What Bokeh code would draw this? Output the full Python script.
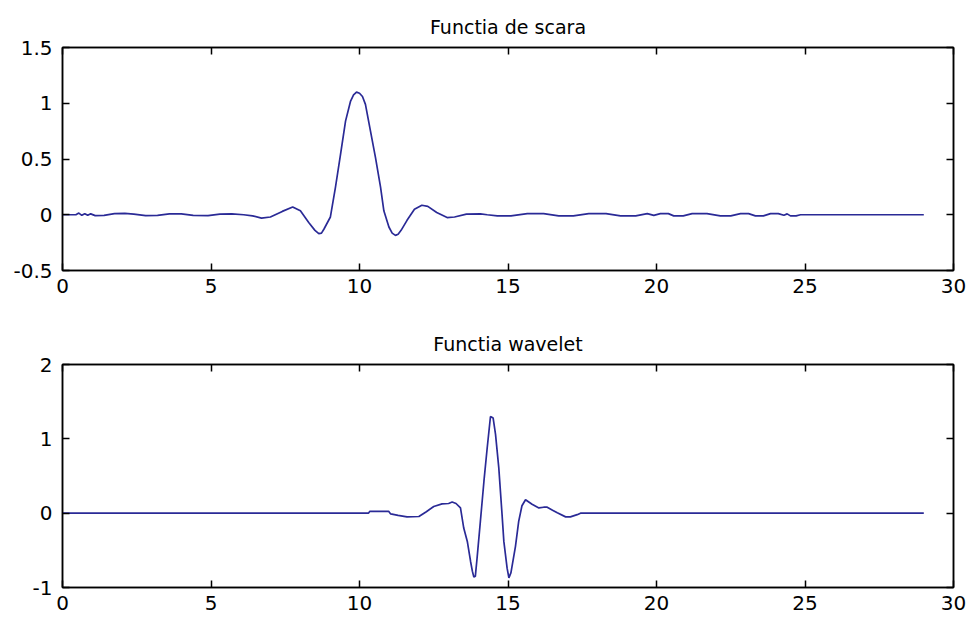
from bokeh.plotting import figure
from bokeh.layouts import column
from bokeh.models import FixedTicker, CustomJSTickFormatter, LinearAxis, Range1d
from bokeh.embed import file_html
from bokeh.resources import INLINE

# ---- data ----
x_ticks = [0, 5, 10, 15, 20, 25, 30]

phi_title = "Functia de scara"
phi_x = [0.0, 0.45, 0.55, 0.65, 0.75, 0.85, 0.95, 1.1, 1.4, 1.75, 2.1, 2.4, 2.8, 3.2, 3.6,
         4.0, 4.4, 4.9, 5.3, 5.7, 6.1, 6.4, 6.7, 7.0, 7.4, 7.75, 8.01, 8.29, 8.5, 8.63, 8.72,
         8.8, 9.02, 9.19, 9.36, 9.53, 9.7, 9.8, 9.9, 10.0, 10.1, 10.2, 10.37, 10.54, 10.71,
         10.82, 10.99, 11.1, 11.21, 11.3, 11.4, 11.6, 11.85, 12.1, 12.3, 12.6, 12.95, 13.2,
         13.6, 14.07, 14.3, 14.64, 15.1, 15.65, 16.2, 16.71, 17.2, 17.72, 18.3, 18.79, 19.3,
         19.69, 19.91, 20.13, 20.4, 20.58, 20.9, 21.2, 21.7, 22.15, 22.5, 22.83, 23.1, 23.33,
         23.6, 23.84, 24.1, 24.29, 24.4, 24.51, 24.7, 24.85, 29.0]
phi_y = [0.0, 0.0, 0.015, -0.005, 0.01, -0.005, 0.008, -0.008, -0.005, 0.01, 0.012, 0.005,
         -0.008, -0.005, 0.008, 0.008, -0.005, -0.008, 0.005, 0.008, 0.0, -0.01, -0.03, -0.02,
         0.03, 0.07, 0.035, -0.07, -0.14, -0.17, -0.165, -0.13, -0.02, 0.245, 0.54, 0.84,
         1.02, 1.075, 1.10, 1.09, 1.06, 0.99, 0.75, 0.51, 0.245, 0.035, -0.11, -0.165,
         -0.185, -0.175, -0.14, -0.05, 0.05, 0.085, 0.075, 0.02, -0.025, -0.02, 0.005, 0.008,
         0.0, -0.01, -0.01, 0.01, 0.01, -0.01, -0.01, 0.01, 0.01, -0.01, -0.01, 0.01, -0.005,
         0.01, 0.01, -0.01, -0.01, 0.01, 0.01, -0.01, -0.01, 0.01, 0.01, -0.01, -0.01, 0.01,
         0.01, -0.005, 0.008, -0.01, -0.01, 0.0, 0.0]
phi_y_ticks = [-0.5, 0, 0.5, 1, 1.5]

psi_title = "Functia wavelet"
psi_x = [0.0, 10.3, 10.35, 10.98, 11.05, 11.3, 11.6, 12.0, 12.25, 12.5, 12.78, 13.0, 13.12,
         13.25, 13.4, 13.51, 13.63, 13.74, 13.8, 13.85, 13.9, 13.96, 14.07, 14.19, 14.3,
         14.41, 14.5, 14.58, 14.69, 14.8, 14.86, 14.97, 15.03, 15.1, 15.25, 15.36, 15.47,
         15.59, 15.7, 15.81, 16.04, 16.2, 16.32, 16.5, 16.66, 16.94, 17.1, 17.33, 17.44, 29.0]
psi_y = [0.0, 0.0, 0.025, 0.025, -0.01, -0.03, -0.05, -0.045, 0.02, 0.09, 0.125, 0.13, 0.15,
         0.13, 0.07, -0.2, -0.38, -0.65, -0.78, -0.86, -0.85, -0.6, -0.11, 0.43, 0.88, 1.30,
         1.28, 1.06, 0.61, -0.02, -0.38, -0.74, -0.87, -0.8, -0.45, -0.11, 0.1, 0.18, 0.15,
         0.12, 0.07, 0.08, 0.08, 0.04, 0.005, -0.05, -0.05, -0.02, 0.0, 0.0]
psi_y_ticks = [-1, 0, 1, 2]

LINE_COLOR = "#2a2a96"
FONT = "DejaVu Sans"


def make_fig(xs, ys, title, y_lo, y_hi, y_ticks, height, top, bottom):
    p = figure(width=969, height=height, x_range=Range1d(0, 30), y_range=Range1d(y_lo, y_hi),
               output_backend="svg", toolbar_location=None,
               min_border_left=62, min_border_right=16,
               min_border_top=top, min_border_bottom=bottom)
    p.line(xs, ys, line_color=LINE_COLOR, line_width=1.7)
    p.xgrid.visible = False
    p.ygrid.visible = False
    p.background_fill_color = "white"
    p.border_fill_color = "white"
    p.outline_line_color = "black"
    p.outline_line_width = 1.5
    p.outline_line_alpha = 1.0

    p.title.text = title
    p.title.align = "center"
    p.title.text_font = FONT
    p.title.text_font_size = "19px"
    p.title.text_font_style = "normal"
    p.title.text_color = "black"
    p.title.standoff = 20

    fmt = CustomJSTickFormatter(code="return tick.toString();")
    blank = CustomJSTickFormatter(code="return '';")

    for ax, ticks, standoff in ((p.xaxis[0], x_ticks, 8), (p.yaxis[0], y_ticks, 10)):
        ax.ticker = FixedTicker(ticks=ticks)
        ax.formatter = fmt
        ax.major_tick_in = 7
        ax.major_tick_out = 0
        ax.minor_tick_line_color = None
        ax.axis_line_width = 1.5
        ax.axis_line_color = "black"
        ax.major_tick_line_color = "black"
        ax.major_tick_line_width = 1.5
        ax.major_label_text_font = FONT
        ax.major_label_text_font_size = "20px"
        ax.major_label_text_color = "black"
        ax.major_label_standoff = standoff

    top_ax = LinearAxis(ticker=FixedTicker(ticks=x_ticks), formatter=blank,
                        major_tick_in=7, major_tick_out=0, minor_tick_line_color=None,
                        axis_line_width=1.5, major_tick_line_width=1.5,
                        major_label_standoff=0, major_label_text_font_size="1px")
    right_ax = LinearAxis(ticker=FixedTicker(ticks=y_ticks), formatter=blank,
                          major_tick_in=7, major_tick_out=0, minor_tick_line_color=None,
                          axis_line_width=1.5, major_tick_line_width=1.5,
                          major_label_standoff=0, major_label_text_font_size="1px")
    p.add_layout(top_ax, "above")
    p.add_layout(right_ax, "right")
    return p


p1 = make_fig(phi_x, phi_y, phi_title, -0.5, 1.5, phi_y_ticks, 310, 47, 40)
p2 = make_fig(psi_x, psi_y, psi_title, -1, 2, psi_y_ticks, 307, 54, 30)

layout = column(p1, p2)
open("out.html", "w").write(file_html(layout, INLINE))
